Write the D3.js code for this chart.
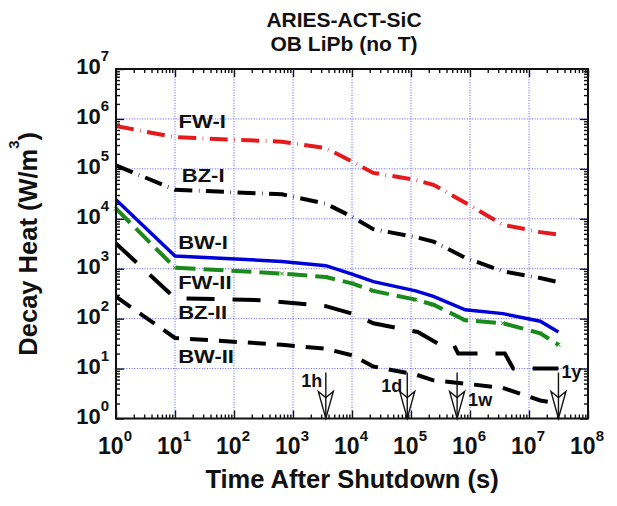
<!DOCTYPE html>
<html>
  <head>
    <title>ARIES-ACT-SiC OB LiPb decay heat</title>
    <script src="https://d3js.org/d3.v7.min.js"></script>
    <style>
      html,
      body {
        margin: 0;
        padding: 0;
        background: #fff;
      }
      svg {
        display: block;
        font-family: "Liberation Sans", Arial, Helvetica, sans-serif;
        font-weight: bold;
      }
    </style>
  </head>
  <body>
    <div id="chart"></div>
    <script>
      // time after shutdown (s) shared by most curves
      const times = [1, 10, 650, 3600, 1e4, 2.3e4, 1.2e5, 2.4e5, 8.3e5, 3.6e6, 1.55e7, 3.15e7];
      // decay heat (W/m3)
      const fw1 = [7.2e5, 4.3e5, 3.5e5, 2.6e5, 1.4e5, 8.3e4, 6.0e4, 4.8e4, 2.1e4, 7.6e3, 5.4e3, 4.8e3];
      const bz1 = [1.17e5, 3.8e4, 3.1e4, 2.0e4, 1.1e4, 6.2e3, 4.3e3, 3.5e3, 1.66e3, 890, 650, 540];
      const bw1 = [2.4e4, 1.8e3, 1.4e3, 1.15e3, 780, 550, 360, 280, 150, 126, 89, 54];
      const fw2 = [1.6e4, 1.05e3, 800, 680, 510, 360, 240, 190, 93, 81, 51, 30];
      const bw2 = [275, 41, 30, 25, 18.5, 11, 7.6, 5.8, 5, 4.1, 2.3, 2];
      // BZ-II steps down (rounded values), so it keeps its own times
      const bz2Times = [1, 10, 300, 3600, 1e4, 2.3e4, 1.3e5, 3.1e5, 5.3e5, 6.3e5, 3.9e6, 5.4e6, 3.15e7];
      const bz2 = [3.2e3, 257, 234, 178, 126, 81, 54, 30, 30, 20, 20, 10, 10];

      const seriesNames = ["FW-I", "BZ-I", "BW-I", "FW-II", "BZ-II", "BW-II"];
      // where each curve name sits, in data units [t, value]
      const labelAt = [
        [11.5, 6.6e5],
        [13, 5.5e4],
        [11.3, 2.45e3],
        [11.3, 393],
        [11.3, 97],
        [11.3, 12.8],
      ];

      const markNames = ["1h", "1d", "1w", "1y"];
      const markTimes = [3600, 86400, 604800, 3.156e7];

      const xExp = d3.range(0, 9);
      const yExp = d3.range(0, 8);

      const width = 617;
      const height = 506;
      const plotLeft = 116;
      const plotRight = 588;
      const plotTop = 69;
      const plotBottom = 418.5;

      const x = d3.scaleLog().domain([1, 1e8]).range([plotLeft, plotRight]);
      const y = d3.scaleLog().domain([1, 1e7]).range([plotBottom, plotTop]);

      const svg = d3
        .select("#chart")
        .append("svg")
        .attr("width", width)
        .attr("height", height);

      //title
      const title = svg
        .append("text")
        .attr("text-anchor", "middle")
        .attr("font-size", 21)
        .attr("fill", "#111");
      title.append("tspan").attr("x", 344).attr("y", 27).text("ARIES-ACT-SiC");
      title.append("tspan").attr("x", 344).attr("y", 51).text("OB LiPb (no T)");

      //grid
      const grid = svg
        .append("g")
        .attr("stroke", "#5a5aff")
        .attr("stroke-width", 1)
        .attr("stroke-dasharray", "1,1.6");
      grid
        .selectAll(".gx")
        .data(xExp.slice(1, -1))
        .enter()
        .append("line")
        .attr("x1", (d) => x(10 ** d))
        .attr("x2", (d) => x(10 ** d))
        .attr("y1", plotTop)
        .attr("y2", plotBottom);
      grid
        .selectAll(".gy")
        .data(yExp.slice(1, -1))
        .enter()
        .append("line")
        .attr("x1", plotLeft)
        .attr("x2", plotRight)
        .attr("y1", (d) => y(10 ** d))
        .attr("y2", (d) => y(10 ** d));

      //ticks on all four sides, pointing inward
      const minors = (exps) =>
        exps.slice(0, -1).flatMap((e) => d3.range(2, 10).map((m) => m * 10 ** e));
      const xMajor = xExp.map((e) => 10 ** e);
      const yMajor = yExp.map((e) => 10 ** e);

      function tickAxis(axis, values, size, transform) {
        svg
          .append("g")
          .attr("transform", transform)
          .call(axis.tickValues(values).tickSize(size).tickFormat(""))
          .call((g) => g.select(".domain").remove())
          .call((g) => g.selectAll("line").attr("stroke", "#111").attr("stroke-width", 1.4));
      }
      tickAxis(d3.axisBottom(x), xMajor, -8, `translate(0,${plotBottom})`);
      tickAxis(d3.axisBottom(x), minors(xExp), -4, `translate(0,${plotBottom})`);
      tickAxis(d3.axisTop(x), xMajor, -8, `translate(0,${plotTop})`);
      tickAxis(d3.axisTop(x), minors(xExp), -4, `translate(0,${plotTop})`);
      tickAxis(d3.axisLeft(y), yMajor, -8, `translate(${plotLeft},0)`);
      tickAxis(d3.axisLeft(y), minors(yExp), -4, `translate(${plotLeft},0)`);
      tickAxis(d3.axisRight(y), yMajor, -8, `translate(${plotRight},0)`);
      tickAxis(d3.axisRight(y), minors(yExp), -4, `translate(${plotRight},0)`);

      //tick labels with superscript exponents
      const xLab = svg
        .selectAll(".xlab")
        .data(xExp)
        .enter()
        .append("text")
        .attr("text-anchor", "middle")
        .attr("font-size", 23)
        .attr("fill", "#111")
        .attr("x", (d) => x(10 ** d) - 1)
        .attr("y", 454);
      xLab.append("tspan").text("10");
      xLab
        .append("tspan")
        .attr("font-size", 15)
        .attr("dy", -13)
        .text((d) => d);

      const yLab = svg
        .selectAll(".ylab")
        .data(yExp)
        .enter()
        .append("text")
        .attr("text-anchor", "end")
        .attr("font-size", 22)
        .attr("fill", "#111")
        .attr("x", 109)
        .attr("y", (d) => y(10 ** d) + 5);
      yLab.append("tspan").text("10");
      yLab
        .append("tspan")
        .attr("font-size", 15)
        .attr("dy", -13)
        .text((d) => d);

      //axis titles
      svg
        .append("text")
        .attr("text-anchor", "middle")
        .attr("font-size", 25.5)
        .attr("fill", "#111")
        .attr("x", (plotLeft + plotRight) / 2)
        .attr("y", 488)
        .text("Time After Shutdown (s)");

      const yTitle = svg
        .append("text")
        .attr("text-anchor", "middle")
        .attr("font-size", 25.5)
        .attr("fill", "#111")
        .attr("transform", `translate(37,${(plotTop + plotBottom) / 2}) rotate(-90)`);
      yTitle.append("tspan").text("Decay Heat (W/m");
      yTitle.append("tspan").attr("font-size", 15).attr("dy", -18).text("3");
      yTitle.append("tspan").attr("dy", 18).text(")");

      //curves
      const series = [
        { t: times, v: fw1, color: "#e41a1c", w: 4, dash: "18,6.5,0.6,6.5" },
        { t: times, v: bz1, color: "#000", w: 4, dash: "18,6.5,0.6,6.5" },
        { t: times, v: bw1, color: "#0000d8", w: 3.5, dash: null },
        { t: times, v: fw2, color: "#1a8a1a", w: 4, dash: "20,8" },
        { t: bz2Times, v: bz2, color: "#000", w: 4, dash: "28,18" },
        { t: times, v: bw2, color: "#000", w: 4, dash: "18,11" },
      ];

      const line = d3
        .line()
        .x((d) => x(d[0]))
        .y((d) => y(d[1]));

      svg
        .append("g")
        .selectAll("path")
        .data(series)
        .enter()
        .append("path")
        .attr("d", (s) => line(d3.zip(s.t, s.v)))
        .attr("fill", "none")
        .attr("stroke", (s) => s.color)
        .attr("stroke-width", (s) => s.w)
        .attr("stroke-dasharray", (s) => s.dash);

      //small x markers on FW-II points
      svg
        .append("g")
        .selectAll("path")
        .data(d3.zip(times, fw2))
        .enter()
        .append("path")
        .attr("d", (d) => {
          const px = x(d[0]);
          const py = y(d[1]);
          return `M${px - 2},${py - 2}L${px + 2},${py + 2}M${px - 2},${py + 2}L${px + 2},${py - 2}`;
        })
        .attr("stroke", "#1a8a1a")
        .attr("stroke-width", 1);

      //curve names
      svg
        .selectAll(".name")
        .data(seriesNames)
        .enter()
        .append("text")
        .attr("font-size", 19)
        .attr("fill", "#111")
        .attr("transform", (d, i) => `translate(${x(labelAt[i][0])},${y(labelAt[i][1])}) scale(1.16,1)`)
        .text((d) => d);

      //frame
      svg
        .append("rect")
        .attr("x", plotLeft)
        .attr("y", plotTop)
        .attr("width", plotRight - plotLeft)
        .attr("height", plotBottom - plotTop)
        .attr("fill", "none")
        .attr("stroke", "#111")
        .attr("stroke-width", 2);

      //time markers: arrows down to the axis
      const labelOffset = [
        [-3.5, -31.5, "end"],
        [-5, -26.5, "end"],
        [11, -12.5, "start"],
        [3, -40.5, "start"],
      ];
      const marks = svg
        .selectAll(".mark")
        .data(markTimes)
        .enter()
        .append("g")
        .attr("transform", (d) => `translate(${x(d)},${plotBottom})`);
      marks
        .append("path")
        .attr("d", "M-7.5,-27L0,-21L7.5,-27L0,0Z")
        .attr("fill", "#fff")
        .attr("stroke", "#111")
        .attr("stroke-width", 1.4);
      marks
        .append("line")
        .attr("y1", -46)
        .attr("y2", 0)
        .attr("stroke", "#111")
        .attr("stroke-width", 1.4);
      marks
        .append("text")
        .attr("font-size", 18)
        .attr("fill", "#111")
        .attr("x", (d, i) => labelOffset[i][0])
        .attr("y", (d, i) => labelOffset[i][1])
        .attr("text-anchor", (d, i) => labelOffset[i][2])
        .text((d, i) => markNames[i]);
    </script>
  </body>
</html>
